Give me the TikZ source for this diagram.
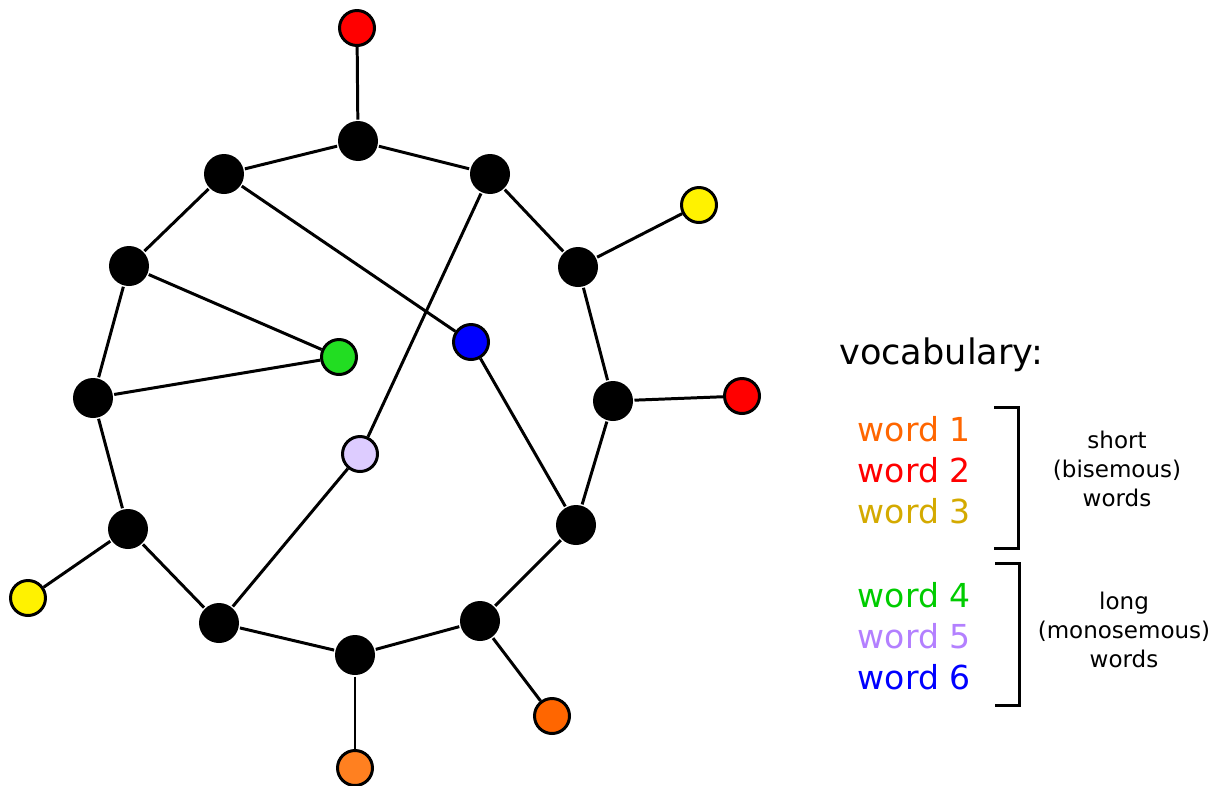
\documentclass[tikz,border=0pt]{standalone}
\usepackage{fontspec}
\setmainfont{DejaVu Sans}
\usetikzlibrary{arrows}

\definecolor{wordone}{HTML}{FF6600}
\definecolor{wordtwo}{HTML}{FF0000}
\definecolor{wordthree}{HTML}{D4AA00}
\definecolor{wordfour}{HTML}{00CC00}
\definecolor{wordfive}{HTML}{B380FF}
\definecolor{wordsix}{HTML}{0000FF}
\definecolor{leafgreen}{HTML}{22DD22}
\definecolor{leaflilac}{HTML}{DDCCFF}
\definecolor{leaforange}{HTML}{FF8020}

\begin{document}
\begin{tikzpicture}[x=0.02cm,y=-0.02cm,line width=1.7pt,
                    main node/.style={circle,fill=black,inner sep=0pt,minimum size=0.8cm},
                    leaf node/.style={circle,draw=black,line width=1.7pt,inner sep=0pt,minimum size=0.7cm},
                    word/.style={anchor=east,inner sep=0pt,font=\fontsize{18.8}{20}\selectfont},
                    note/.style={align=center,font=\fontsize{13.1}{16.5}\selectfont}]

  \useasboundingbox (0,0) rectangle (1213,785);

  % the cycle
  \node[main node] (1) at (358,141) {};
  \node[main node] (2) at (490,174) {};
  \node[main node] (3) at (578,267) {};
  \node[main node] (4) at (613,401) {};
  \node[main node] (5) at (576,525) {};
  \node[main node] (6) at (480,621) {};
  \node[main node] (7) at (355,655) {};
  \node[main node] (8) at (219,623) {};
  \node[main node] (9) at (128,529) {};
  \node[main node] (10) at (93,398) {};
  \node[main node] (11) at (129,266) {};
  \node[main node] (12) at (224,174) {};

  % the leaves
  \node[leaf node,fill=red] (red top) at (357,28) {};
  \node[leaf node,fill=yellow] (yellow right) at (699,205) {};
  \node[leaf node,fill=red] (red right) at (742,396) {};
  \node[leaf node,fill=blue] (blue) at (471,342) {};
  \node[leaf node,fill=leafgreen] (green) at (339,357) {};
  \node[leaf node,fill=leaflilac] (lilac) at (360,454) {};
  \node[leaf node,fill=yellow] (yellow left) at (28,598) {};
  \node[leaf node,fill=wordone] (orange right) at (552,716) {};
  \node[leaf node,fill=leaforange] (orange bottom) at (355,768) {};

  \path
    (1) edge (2) edge (12) edge (red top)
    (2) edge (3) edge (lilac)
    (3) edge (4) edge (yellow right)
    (4) edge (5) edge (red right)
    (5) edge (6) edge (blue)
    (6) edge (7) edge (orange right)
    (7) edge (8) edge (orange bottom)
    (8) edge (9) edge (lilac)
    (9) edge (10) edge (yellow left)
    (10) edge (11) edge (green)
    (11) edge (12) edge (green)
    (12) edge (blue)
  ;

  % legend
  \node[anchor=west,font=\fontsize{20}{24}\selectfont] (vocab) at (832,355) {vocabulary:};
  \node[word,text=wordone] (w1) at (972,429) {word 1};
  \node[word,text=wordtwo] (w2) at (972,470) {word 2};
  \node[word,text=wordthree] (w3) at (972,511) {word 3};
  \node[word,text=wordfour] (w4) at (972,595) {word 4};
  \node[word,text=wordfive] (w5) at (972,636) {word 5};
  \node[word,text=wordsix] (w6) at (972,677) {word 6};

  \draw (994,407) -- (1018,407) -- (1018,548) -- (994,548);
  \draw (995,563) -- (1019,563) -- (1019,705) -- (995,705);

  \node[note] (short) at (1117,469) {short\\(bisemous)\\words};
  \node[note] (long) at (1124,630) {long\\(monosemous)\\words};
\end{tikzpicture}
\end{document}
